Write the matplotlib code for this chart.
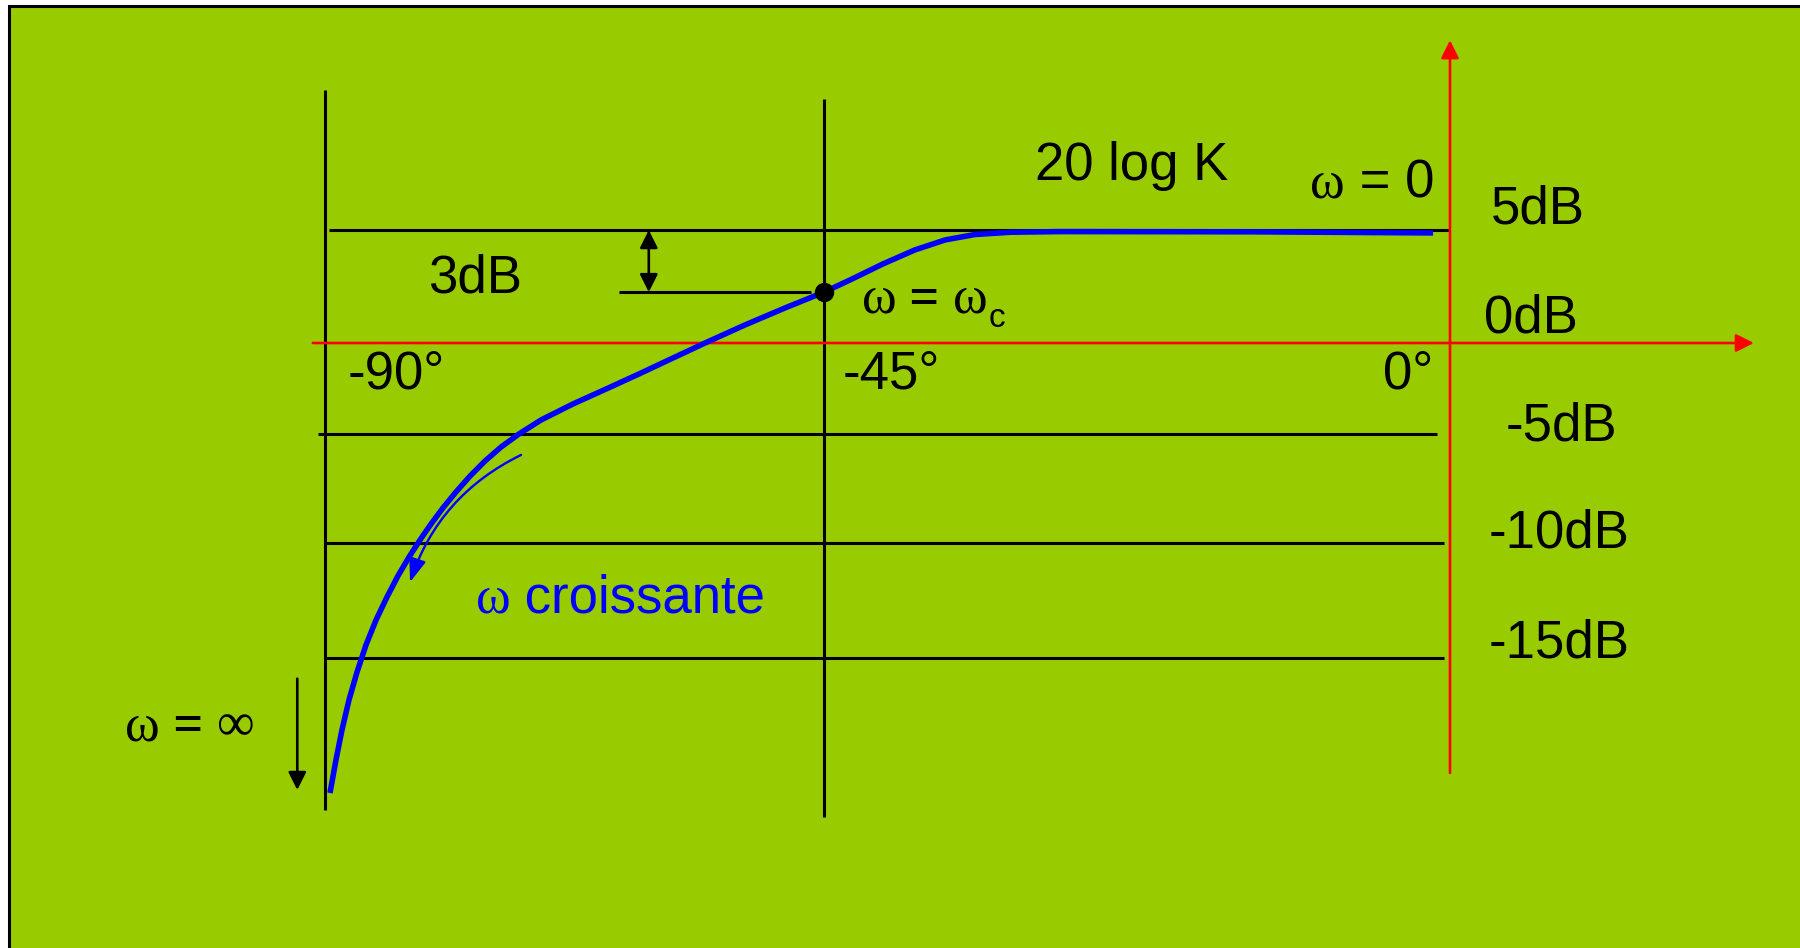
import numpy as np
import matplotlib
matplotlib.use("Agg")
import matplotlib.pyplot as plt
from matplotlib.patches import Rectangle

# Black-Nichols locus of a first order system
phase_deg = [-89.55, -89.01, -88.47, -87.84, -87.11, -86.30, -85.40, -84.41,
             -83.42, -82.42, -81.43, -80.44, -79.36, -78.19, -76.92, -75.57,
             -74.13, -72.51, -70.52, -67.64, -64.66, -61.68, -58.71, -55.73,
             -52.12, -48.52, -45.00, -42.99, -40.76, -38.46, -36.30, -34.15,
             -31.63, -28.04, -14.38, -1.22]
gain_db = [-20.87, -19.43, -18.13, -16.83, -15.61, -14.43, -13.35, -12.35,
           -11.43, -10.61, -9.86, -9.13, -8.39, -7.66, -6.93, -6.24,
           -5.60, -5.00, -4.23, -3.35, -2.53, -1.70, -0.85, 0.00,
           0.80, 1.55, 2.25, 2.83, 3.50, 4.12, 4.56, 4.80,
           4.90, 4.93, 4.92, 4.87]

phase_ticks = [-90, -45, 0]
phase_labels = ["-90°", "-45°", "0°"]
gain_ticks = [5, 0, -5, -10, -15]
gain_labels = ["5dB", "0dB", "-5dB", "-10dB", "-15dB"]

wc_phase = -45      # omega = omega_c
wc_gain = 2.25
k_gain = 5          # 20 log K

GREEN = "#99CC00"
BLUE = "#0000FF"
SANS = "Liberation Sans"
SERIF = ["Liberation Serif", "DejaVu Serif"]
FS = 38

# the sketch is not drawn to scale -> piecewise linear scales
W, H = 1800, 948
x_anchor = [-90, -45, 0]
x_pix = [325, 824, 1450]
y_anchor = [-15, -10, -5, 0, 5]
y_pix = [290, 405, 514, 605, 718]


def piecewise(src, dst):
    src = np.asarray(src, float)
    dst = np.asarray(dst, float)
    lo = (dst[1] - dst[0]) / (src[1] - src[0])
    hi = (dst[-1] - dst[-2]) / (src[-1] - src[-2])

    def f(v):
        v = np.asarray(v, float)
        out = np.interp(v, src, dst)
        out = np.where(v < src[0], dst[0] + (v - src[0]) * lo, out)
        out = np.where(v > src[-1], dst[-1] + (v - src[-1]) * hi, out)
        return out
    return f


fx, fx_inv = piecewise(x_anchor, x_pix), piecewise(x_pix, x_anchor)
fy, fy_inv = piecewise(y_anchor, y_pix), piecewise(y_pix, y_anchor)

fig = plt.figure(figsize=(W / 100, H / 100), dpi=100)
fig.patch.set_facecolor("white")
ax = fig.add_axes([0, 0, 1, 1])
ax.set_xscale("function", functions=(fx, fx_inv))
ax.set_yscale("function", functions=(fy, fy_inv))
ax.set_xlim(float(fx_inv(0)), float(fx_inv(W)))
ax.set_ylim(float(fy_inv(0)), float(fy_inv(H)))
ax.axis("off")

# green slide with its frame (only left and top edges visible)
fig.add_artist(Rectangle((9 / W, -0.1), 1.2, 1.1 - 6 / H, transform=fig.transFigure,
                         facecolor=GREEN, edgecolor="black", lw=2.2, zorder=0))

# grid lines
LW = 2.2
ax.plot([-90, -90], [11.2, -21.6], color="black", lw=LW, solid_capstyle="butt")
ax.plot([-45, -45], [10.8, -21.9], color="black", lw=LW, solid_capstyle="butt")
h_extent = {5: (-89.6, 0), -5: (-90.6, -0.9), -10: (-89.9, -0.4), -15: (-89.9, -0.4)}
for g, (x0, x1) in h_extent.items():
    ax.plot([x0, x1], [g, g], color="black", lw=LW, solid_capstyle="butt")

# red axes
red_arrow = dict(arrowstyle="-|>", color="red", lw=1.9, mutation_scale=27,
                 shrinkA=0, shrinkB=0)
ax.annotate("", xy=(21.85, 0), xytext=(-91.1, 0), arrowprops=red_arrow)
ax.annotate("", xy=(0, 13.4), xytext=(0, -20.0), arrowprops=red_arrow)

# locus
ax.plot(phase_deg, gain_db, color=BLUE, lw=4, solid_joinstyle="round",
        solid_capstyle="butt", zorder=4)

# -3 dB point
ax.plot([-63.5, -46.2], [wc_gain, wc_gain], color="black", lw=LW, solid_capstyle="butt")
ax.plot(wc_phase, wc_gain, "o", color="black", ms=13, zorder=5)
ax.annotate("", xy=(-60.8, k_gain), xytext=(-60.8, wc_gain),
            arrowprops=dict(arrowstyle="<|-|>", color="black", lw=1.9,
                            mutation_scale=27, shrinkA=0, shrinkB=0))
ax.text(-80.7, wc_gain, "3dB", fontsize=FS, family=SANS, va="baseline")
ax.text(-29.8, 7.2, "20 log K", fontsize=FS, family=SANS, va="baseline")

# omega = infinity arrow
ax.annotate("", xy=(-92.5, -20.74), xytext=(-92.5, -15.9),
            arrowprops=dict(arrowstyle="-|>", color="black", lw=1.9,
                            mutation_scale=27, shrinkA=0, shrinkB=0))

# increasing omega arrow
ax.annotate("", xy=(-82.33, -11.7), xytext=(-72.32, -5.96),
            arrowprops=dict(arrowstyle="-|>,head_length=0.55,head_width=0.2",
                            color=BLUE, lw=1.7, mutation_scale=26,
                            connectionstyle="arc3,rad=0.21", shrinkA=0, shrinkB=0))

# axis labels
phase_dx = [23, 19, -17]
for deg, lab, dx in zip(phase_ticks, phase_labels, phase_dx):
    ax.annotate(lab, xy=(deg, 0), xytext=(dx * 0.72, -45 * 0.72),
                textcoords="offset points", fontsize=FS, family=SANS,
                ha="left" if dx > 0 else "right", va="baseline")

gain_off = [(41, 7), (34, 11), (56, -6), (39, -5), (39, 1)]
for g, lab, (dx, dy) in zip(gain_ticks, gain_labels, gain_off):
    ax.annotate(lab, xy=(0, g), xytext=(dx * 0.72, dy * 0.72),
                textcoords="offset points", fontsize=FS, family=SANS,
                ha="left", va="baseline")


def chain(x, y, parts, color="black"):
    s, kw = parts[0]
    t = ax.text(x, y, s, fontsize=FS, color=color, va="baseline", ha="left", **kw)
    for s, kw in parts[1:]:
        kw = dict(kw)
        off = kw.pop("off", (0, 0))
        kw.setdefault("fontsize", FS)
        t = ax.annotate(s, xy=(1, 0), xycoords=t, xytext=off, textcoords="offset points",
                        color=color, va="bottom", ha="left", **kw)
    return t


w_kw = dict(family=SERIF)
eq_kw = dict(family=SERIF, fontweight="bold")
chain(-42.3, 1.33, [("ω", w_kw), (" = ", eq_kw), ("ω", w_kw),
                    ("c", dict(family=SANS, fontsize=24, off=(1, -7)))])
chain(-10.06, 6.46, [("ω", w_kw), (" = 0", dict(family=SANS))])
chain(-108.0, -18.57, [("ω", w_kw), (" = ", eq_kw), ("∞", w_kw)])
chain(-76.4, -13.04, [("ω", w_kw), (" croissante", dict(family=SANS))], color=BLUE)

fig.savefig("out.png", dpi=100, facecolor="white")
